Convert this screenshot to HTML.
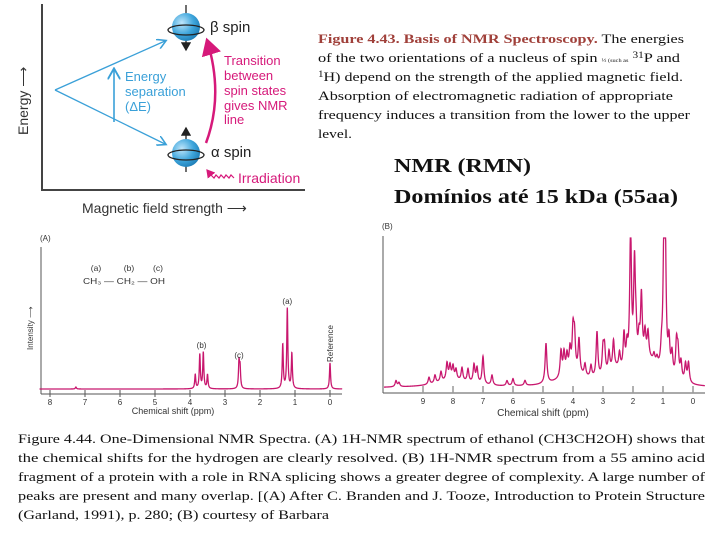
<!DOCTYPE html>
<html><head><meta charset="utf-8"><style>
html,body{margin:0;padding:0;background:#fff;}
svg{display:block;}
.s{font-family:"Liberation Sans",sans-serif;}
.r{font-family:"Liberation Serif",serif;}
</style></head><body>
<svg width="720" height="540" viewBox="0 0 720 540">
<defs>
<radialGradient id="sph" cx="0.35" cy="0.35" r="0.7"><stop offset="0" stop-color="#bfe6fb"/><stop offset="0.6" stop-color="#3fa6dc"/><stop offset="1" stop-color="#1f7fb8"/></radialGradient>
<marker id="ab" markerWidth="8" markerHeight="8" refX="6" refY="4" orient="auto"><path d="M0,0 L7,4 L0,8" fill="none" stroke="#3aa0d8" stroke-width="1.2"/></marker>
<marker id="ap" markerWidth="8" markerHeight="8" refX="6" refY="4" orient="auto"><path d="M0,0 L7,4 L0,8 z" fill="#d6197a"/></marker>
<marker id="ak" markerWidth="8" markerHeight="8" refX="6" refY="4" orient="auto"><path d="M0,0 L7,4 L0,8 z" fill="#222"/></marker>
</defs>

<g>
<line x1="42" y1="4" x2="42" y2="191" stroke="#444" stroke-width="2"/>
<line x1="41" y1="190" x2="305" y2="190" stroke="#444" stroke-width="2"/>
<text class="s" x="28" y="135" font-size="14" fill="#333" transform="rotate(-90 28 135)">Energy ⟶</text>
<text class="s" x="82" y="213" font-size="14" fill="#333">Magnetic field strength ⟶</text>
<line x1="55" y1="90" x2="165" y2="41" stroke="#3aa0d8" stroke-width="1.3" marker-end="url(#ab)"/>
<line x1="55" y1="90" x2="165" y2="144" stroke="#3aa0d8" stroke-width="1.3" marker-end="url(#ab)"/>
<line x1="114" y1="122" x2="114" y2="70" stroke="#3aa0d8" stroke-width="1.6" marker-end="url(#ab)"/>
<g class="s" font-size="13" fill="#3aa0d8">
<text x="125" y="81">Energy</text><text x="125" y="96">separation</text><text x="125" y="111">(ΔE)</text></g>
<g>
<line x1="186" y1="5" x2="186" y2="50" stroke="#222" stroke-width="1.3" marker-end="url(#ak)"/>
<circle cx="186" cy="27" r="14" fill="url(#sph)"/>
<ellipse cx="186" cy="30" rx="18" ry="5" fill="none" stroke="#222" stroke-width="1.3"/>
</g>
<g>
<line x1="186" y1="172" x2="186" y2="128" stroke="#222" stroke-width="1.3" marker-end="url(#ak)"/>
<circle cx="186" cy="153" r="14" fill="url(#sph)"/>
<ellipse cx="186" cy="155" rx="18" ry="5" fill="none" stroke="#222" stroke-width="1.3"/>
</g>
<text class="s" x="210" y="32" font-size="15" fill="#222">β spin</text>
<text class="s" x="211" y="157" font-size="15" fill="#222">α spin</text>
<path d="M206,143 Q224,95 207,40" fill="none" stroke="#d6197a" stroke-width="2.5" marker-end="url(#ap)"/>
<g class="s" font-size="13" fill="#d6197a">
<text x="224" y="65">Transition</text><text x="224" y="80">between</text><text x="224" y="95">spin states</text><text x="224" y="110">gives NMR</text><text x="224" y="124">line</text></g>
<path d="M234,178 l-3,-3 l-2,3 l-3,-3 l-2,3 l-3,-3 l-2,3 l-3,-3 l-2,3 l-3,-3 l-4,-5" fill="none" stroke="#d6197a" stroke-width="1.2" marker-end="url(#ap)"/>
<text class="s" x="238" y="183" font-size="14" fill="#d6197a">Irradiation</text>
</g>

<g class="r" font-size="13" fill="#111">
<text x="318" y="43" textLength="366" lengthAdjust="spacingAndGlyphs"><tspan fill="#a0403a" font-weight="bold">Figure 4.43. Basis of NMR Spectroscopy.</tspan> The energies</text>
<text x="318" y="62" textLength="362" lengthAdjust="spacingAndGlyphs">of the two orientations of a nucleus of spin <tspan font-size="5">½ (such as</tspan> <tspan font-size="9" dy="-4">31</tspan><tspan dy="4">P and</tspan></text>
<text x="318" y="81" textLength="365" lengthAdjust="spacingAndGlyphs"><tspan font-size="9" dy="-4">1</tspan><tspan dy="4">H) depend on the strength of the applied magnetic field.</tspan></text>
<text x="318" y="100" textLength="355" lengthAdjust="spacingAndGlyphs">Absorption of electromagnetic radiation of appropriate</text>
<text x="318" y="119" textLength="372" lengthAdjust="spacingAndGlyphs">frequency induces a transition from the lower to the upper</text>
<text x="318" y="138" textLength="34" lengthAdjust="spacingAndGlyphs">level.</text>
</g>
<g class="r" font-size="20" font-weight="bold" fill="#111">
<text x="394" y="172" textLength="137" lengthAdjust="spacingAndGlyphs">NMR (RMN)</text>
<text x="394" y="203" textLength="284" lengthAdjust="spacingAndGlyphs">Domínios até 15 kDa (55aa)</text>
</g>

<g id="chartA">
<text class="s" x="40" y="241" font-size="8" fill="#333">(A)</text>
<line x1="41" y1="247" x2="41" y2="394" stroke="#555" stroke-width="1"/>
<line x1="41" y1="394" x2="342" y2="394" stroke="#555" stroke-width="1"/>
<text class="s" x="33" y="350" font-size="8" fill="#333" transform="rotate(-90 33 350)">Intensity ⟶</text>
<text class="s" x="173" y="414" font-size="9" fill="#333" text-anchor="middle">Chemical shift (ppm)</text>
<g class="s" font-size="8.5" fill="#333" text-anchor="middle">
<text x="96" y="271">(a)</text><text x="129" y="271">(b)</text><text x="158" y="271">(c)</text>
<text x="124" y="284" textLength="82" lengthAdjust="spacingAndGlyphs">CH₃ — CH₂ — OH</text></g>
</g>

<g id="chartB">
<text class="s" x="382" y="229" font-size="8" fill="#333">(B)</text>
<line x1="383" y1="236" x2="383" y2="393" stroke="#555" stroke-width="1"/>
<line x1="383" y1="393" x2="705" y2="393" stroke="#555" stroke-width="1"/>
<text class="s" x="543" y="416" font-size="10" fill="#333" text-anchor="middle">Chemical shift (ppm)</text>
</g>

<g class="r" font-size="13" fill="#111">
<text x="18" y="443" textLength="687" lengthAdjust="spacingAndGlyphs">Figure 4.44. One-Dimensional NMR Spectra. (A) 1H-NMR spectrum of ethanol (CH3CH2OH) shows that</text>
<text x="18" y="462" textLength="687" lengthAdjust="spacingAndGlyphs">the chemical shifts for the hydrogen are clearly resolved. (B) 1H-NMR spectrum from a 55 amino acid</text>
<text x="18" y="481" textLength="687" lengthAdjust="spacingAndGlyphs">fragment of a protein with a role in RNA splicing shows a greater degree of complexity. A large number of</text>
<text x="18" y="500" textLength="687" lengthAdjust="spacingAndGlyphs">peaks are present and many overlap. [(A) After C. Branden and J. Tooze, Introduction to Protein Structure</text>
<text x="18" y="519" textLength="311" lengthAdjust="spacingAndGlyphs">(Garland, 1991), p. 280; (B) courtesy of Barbara</text>
</g>
</svg>
<script>
const ticksA = [8,7,6,5,4,3,2,1,0];
const peaksA_ppm = [1.22,1.35,1.09,3.62,3.72,3.85,3.50,2.60,2.57,0.0,7.26];
const peaksA_h   = [80,44,35,36,34,14,14,26,20,26,2];
const peakLabelsA = [["(a)",1.22,304],["(b)",3.67,348],["(c)",2.60,358]];

const ticksB = [9,8,7,6,5,4,3,2,1,0];
const peaksB_ppm = [2.08,0.93,0.97,1.95,1.72,1.90,1.80,1.60,1.50,4.90,4.40,4.30,4.20,4.00,3.95,3.80,3.60,3.20,3.00,2.95,2.65,2.30,2.20,0.80,0.70,0.55,0.50,0.40,0.25,0.15,1.30,1.20,7.00,7.30,7.50,7.70,8.20,8.00,8.40,8.60,7.90,6.70,6.20,6.00,5.60,9.90,9.80,7.20,8.10,8.80,4.10,3.40,2.80,2.45,1.05];
const peaksB_h   = [140,140,100,100,65,25,22,25,25,40,26,22,18,40,34,34,12,46,26,26,28,36,22,32,22,35,26,18,18,20,8,7,28,18,13,13,17,13,10,8,10,10,5,7,5,6,4,15,14,7,22,12,20,16,16];
const broadB_ppm = [4.0,1.5,8.0,2.6];
const broadB_h   = [12,25,7,12];
const broadB_w   = [0.55,0.45,0.7,0.3];

const NS='http://www.w3.org/2000/svg';
function mk(tag, attrs, parent){const e=document.createElementNS(NS,tag);for(const k in attrs)e.setAttribute(k,attrs[k]);parent.appendChild(e);return e;}
function lor(x,c,h,g){const d=(x-c)/g;return h/(1+d*d);}

const gA=document.getElementById('chartA');
const xA=p=>330-35*p, yA=h=>389-h;
ticksA.forEach(t=>{
  const l=mk('line',{x1:xA(t),y1:390,x2:xA(t),y2:397,stroke:'#555','stroke-width':1},gA);
  
  
  const tx=mk('text',{x:xA(t),y:405,'font-size':8,'text-anchor':'middle',fill:'#333','font-family':'Liberation Sans, sans-serif'},gA);
  tx.textContent=t;
  
  
});
let dA='';
for(let p=8.3;p>=-0.35;p-=0.004){let h=0;for(let i=0;i<peaksA_ppm.length;i++)h+=lor(p,peaksA_ppm[i],peaksA_h[i],0.018);dA+=(dA?'L':'M')+xA(p).toFixed(2)+','+yA(h).toFixed(2);}
const pA=mk('path',{d:dA,fill:'none',stroke:'#c8176e','stroke-width':1.3},gA);


peakLabelsA.forEach(l=>{const t=mk('text',{x:xA(l[1]),y:l[2],'font-size':8,'text-anchor':'middle',fill:'#333','font-family':'Liberation Sans, sans-serif'},gA);t.textContent=l[0];

});
const rt=mk('text',{x:333,y:362,'font-size':8,fill:'#333','font-family':'Liberation Sans, sans-serif',transform:'rotate(-90 333 362)'},gA);
rt.textContent='Reference';



const gB=document.getElementById('chartB');
const xB=p=>693-30*p, yB=h=>388-h;
ticksB.forEach(t=>{
  const l=mk('line',{x1:xB(t),y1:386,x2:xB(t),y2:393,stroke:'#999','stroke-width':1.5},gB);
  
  
  const tx=mk('text',{x:xB(t),y:404,'font-size':8,'text-anchor':'middle',fill:'#333','font-family':'Liberation Sans, sans-serif'},gB);
  tx.textContent=t;
  
  
});
let dB='';
for(let p=10.3;p>=-0.4;p-=0.005){let h=0;for(let i=0;i<peaksB_ppm.length;i++)h+=lor(p,peaksB_ppm[i],peaksB_h[i],0.035);for(let i=0;i<broadB_ppm.length;i++)h+=lor(p,broadB_ppm[i],broadB_h[i],broadB_w[i]);dB+=(dB?'L':'M')+xB(p).toFixed(2)+','+yB(Math.min(h,150)).toFixed(2);}
const pB=mk('path',{d:dB,fill:'none',stroke:'#c8176e','stroke-width':1.3},gB);


</script>
</body></html>
